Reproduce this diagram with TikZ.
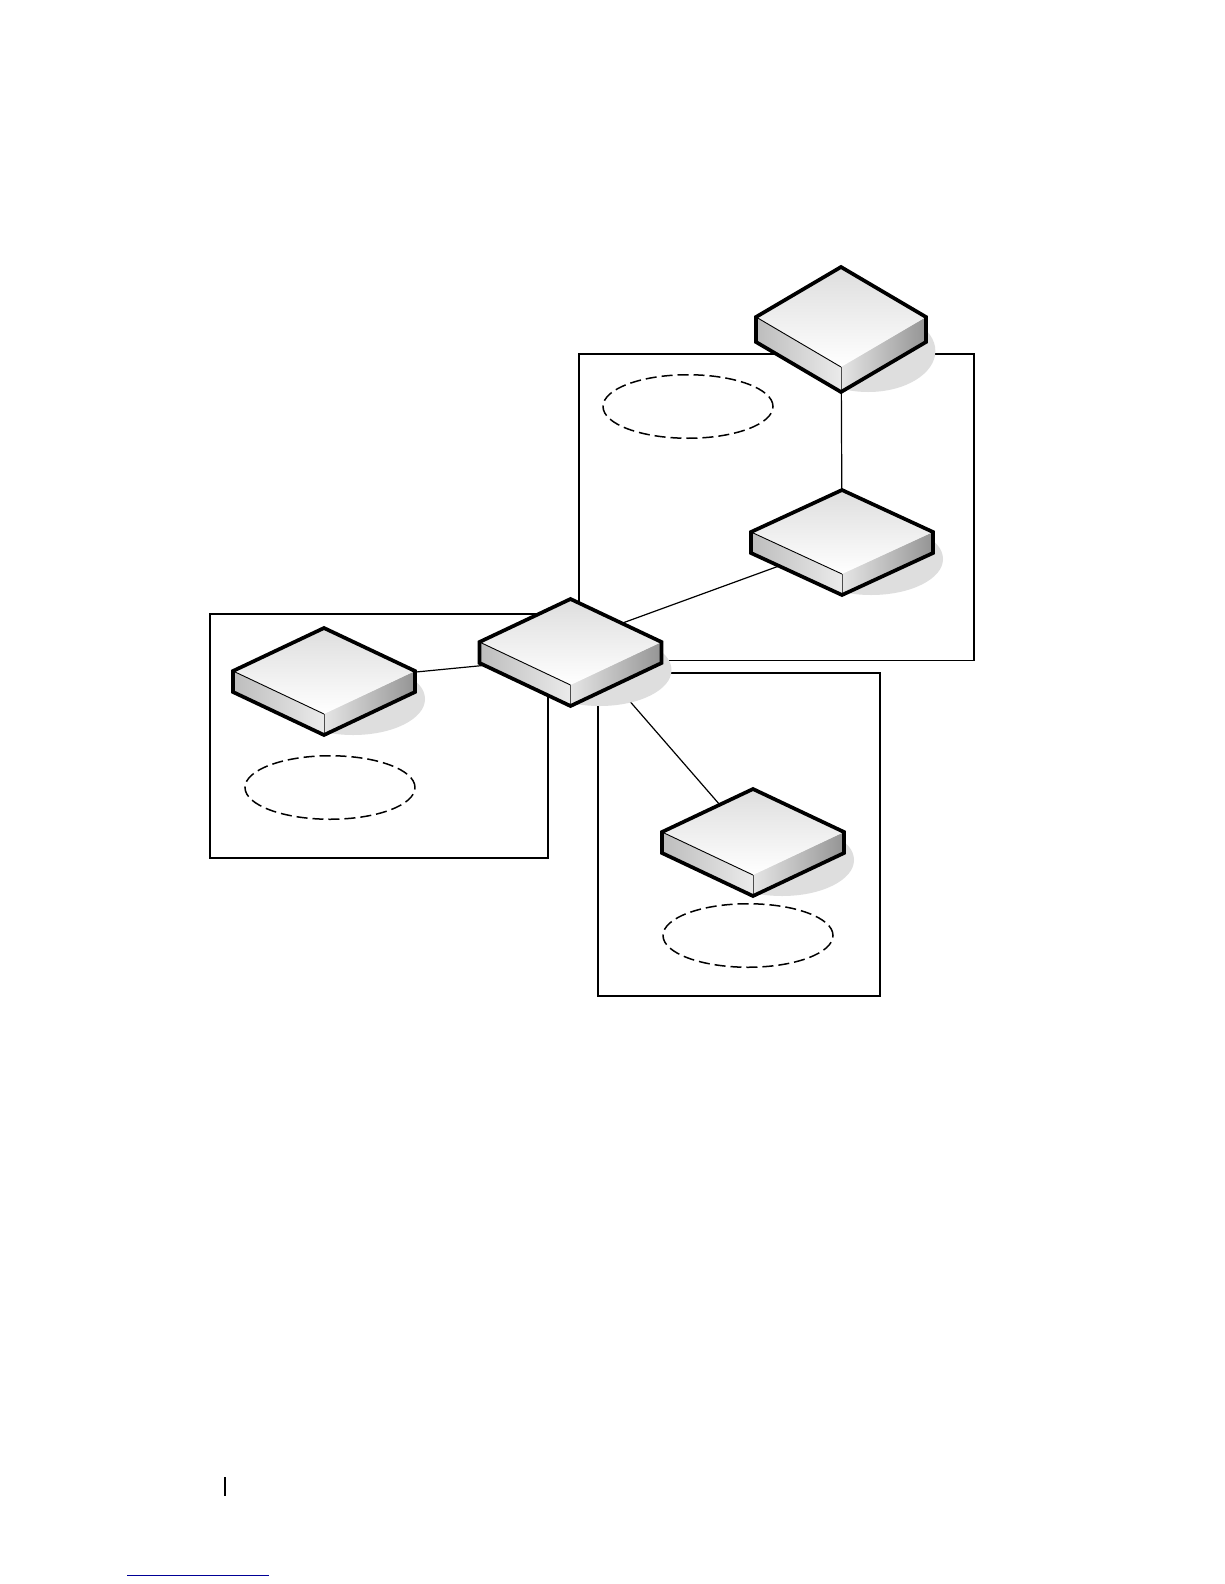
\documentclass[tikz,border=0pt]{standalone}
\usepackage{tikz}
\usetikzlibrary{shapes.geometric}
\definecolor{linkblue}{RGB}{0,0,150}
\definecolor{shadowgray}{RGB}{222,222,222}
\begin{document}
\begin{tikzpicture}[x=1pt, y=-1pt,
		area/.style={draw, line width=1.1pt},
		link/.style={draw, line width=1.2pt},
		zone/.style={draw, ellipse, dashed, dash pattern=on 11pt off 5pt, line width=1.5pt, minimum width=170pt, minimum height=63.5pt, inner sep=0pt},
		outline/.style={draw, line width=3.7pt, line join=miter}]
	\useasboundingbox (0,0) rectangle (1224,1584);
	\fill[white] (0,0) rectangle (1224,1584);
	% Mittelpunkte der Geraete
	\coordinate (topdev) at (841,317);
	\coordinate (middev) at (842,532);
	\coordinate (core) at (570.5,642);
	\coordinate (leftdev) at (324,671);
	\coordinate (lowdev) at (753,832);
	\coordinate (leftend) at (416,672);
	% Bereiche
	\draw[area] (579,354) rectangle (974,660.5);
	\draw[area] (210,614) rectangle (548,858);
	\draw[area] (598,673) rectangle (880,996);
	\node[zone] (zoneright) at (688,406.5) {};
	\node[zone] (zoneleft) at (330,787.5) {};
	\node[zone] (zonelow) at (748,935.5) {};
	% Verbindungen
	\draw[link] (topdev) -- (middev);
	\draw[link] (core) -- ([yshift=-11pt]middev);
	\draw[link] (leftend) -- ([yshift=-15pt]core);
	\draw[link] ([yshift=9pt]core) -- ([yshift=-11pt]lowdev);
	% Geraete
	\foreach \dev/\hw/\hh/\s/\r in {topdev/85/50/25/41, middev/91/42/21/36, core/91/43/21/36, leftdev/91/43/21/36, lowdev/91/43/21/36}{
		\begin{scope}[shift={(\dev)}]
			\fill[shadowgray] (0.32*\hw,\hh+\s-\r) ellipse[x radius=0.79*\hw, y radius=\r];
			\shade[left color=black!26, right color=black!8] (-\hw,0) -- (0,\hh) -- (0,\hh+\s) -- (-\hw,\s) -- cycle;
			\shade[left color=black!10, right color=black!42] (0,\hh) -- (\hw,0) -- (\hw,\s) -- (0,\hh+\s) -- cycle;
			\shade[top color=black!13, bottom color=white] (0,-\hh) -- (\hw,0) -- (0,\hh) -- (-\hw,0) -- cycle;
			\draw[line width=0.9pt] (-\hw,0) -- (0,\hh);
			\draw[line width=0.7pt, black!70] (0,\hh) -- (0,\hh+\s);
			\draw[outline] (0,-\hh) -- (\hw,0) -- (\hw,\s) -- (0,\hh+\s) -- (-\hw,\s) -- (-\hw,0) -- cycle;
		\end{scope}
	}
	% Seitenrand
	\draw[line width=2pt] (225,1477) -- (225,1496);
	\draw[line width=1pt, color=linkblue] (127,1575) -- (269,1575);
\end{tikzpicture}
\end{document}
